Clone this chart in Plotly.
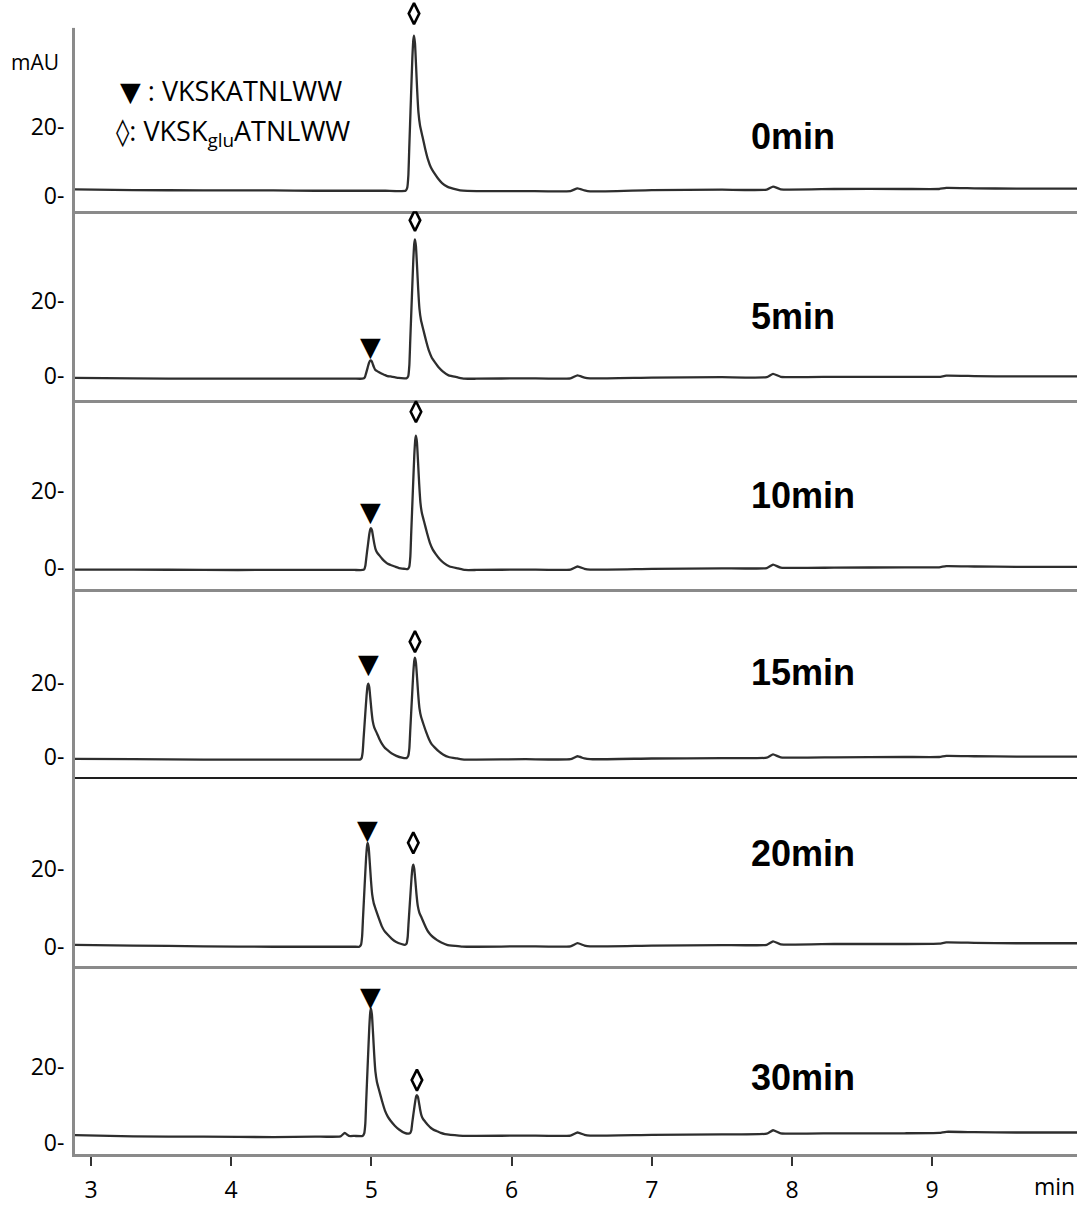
import plotly.graph_objects as go
from plotly.subplots import make_subplots

panel_labels = ["0min", "5min", "10min", "15min", "20min", "30min"]
x_tick_vals = [3, 4, 5, 6, 7, 8, 9]
y_tick_vals = [0, 20]
y_tick_text = ["0-", "20-"]

# Chromatograms: retention time (min) and absorbance (mAU)
time_0min = [2.886, 3.3, 3.8, 4.3, 4.6, 4.78, 4.81, 4.84, 4.88, 5.1,
             5.244, 5.256, 5.264, 5.270, 5.276, 5.282, 5.292, 5.299, 5.304, 5.311, 5.319, 5.327,
             5.336, 5.347, 5.364, 5.384, 5.404, 5.424, 5.444, 5.474, 5.504, 5.544, 5.604, 5.654,
             5.75, 6.1, 6.42, 6.47, 6.52, 6.56, 7.0, 7.5, 7.82, 7.865, 7.92, 8.3, 8.8, 9.05, 9.1, 9.3, 9.6, 10.033]
mau_0min = [2.0, 1.8, 1.7, 1.7, 1.6, 1.6, 1.6, 1.6, 1.6, 1.6,
            1.6, 2.5, 6.1, 13.6, 20.7, 27.9, 39.4, 44.8, 46.1, 43.9, 37.2, 30.1,
            23.9, 20.3, 17.2, 13.6, 10.5, 8.3, 6.9, 5.2, 3.8, 2.7, 2.0, 1.6,
            1.5, 1.5, 1.5, 2.3, 1.7, 1.4, 1.8, 1.9, 1.9, 2.8, 2.0, 2.1, 2.1, 2.1, 2.4, 2.3, 2.2, 2.2]

time_5min = [2.886, 3.3, 3.8, 4.3, 4.6, 4.78, 4.81, 4.84, 4.88,
             4.935, 4.947, 4.955, 4.961, 4.967, 4.973, 4.983, 4.990, 4.995, 5.002, 5.010, 5.018,
             5.027, 5.038, 5.055, 5.075, 5.095, 5.115, 5.135, 5.165, 5.195, 5.235,
             5.251, 5.263, 5.271, 5.277, 5.283, 5.289, 5.299, 5.306, 5.311, 5.318, 5.326, 5.334,
             5.343, 5.354, 5.371, 5.391, 5.411, 5.431, 5.451, 5.481, 5.511, 5.551, 5.611, 5.661,
             5.75, 6.1, 6.42, 6.47, 6.52, 6.56, 7.0, 7.5, 7.82, 7.865, 7.92, 8.3, 8.8, 9.05, 9.1, 9.3, 9.6, 10.033]
mau_5min = [-0.6, -0.7, -0.8, -0.8, -0.8, -0.8, -0.8, -0.8, -0.8,
            -0.8, -0.7, -0.3, 0.5, 1.3, 2.1, 3.4, 4.0, 4.1, 3.9, 3.1, 2.3,
            1.6, 1.3, 0.9, 0.5, 0.2, -0.1, -0.2, -0.4, -0.6, -0.7,
            -0.7, -0.1, 2.9, 9.2, 15.2, 21.1, 30.8, 35.3, 36.4, 34.5, 29.0, 23.0,
            17.8, 14.8, 12.2, 9.2, 6.6, 4.8, 3.7, 2.2, 1.1, 0.1, -0.4, -0.8,
            -0.8, -0.7, -0.7, 0.1, -0.5, -0.7, -0.5, -0.4, -0.4, 0.5, -0.3, -0.3, -0.3, -0.3, 0.0, -0.1, -0.2, -0.2]

time_10min = [2.886, 3.3, 3.8, 4.3, 4.6, 4.78, 4.81, 4.84, 4.88,
              4.937, 4.949, 4.957, 4.963, 4.969, 4.975, 4.985, 4.992, 4.997, 5.004, 5.012, 5.020,
              5.029, 5.040, 5.057, 5.077, 5.097, 5.117, 5.137, 5.167, 5.197, 5.237,
              5.258, 5.270, 5.278, 5.284, 5.290, 5.296, 5.306, 5.313, 5.318, 5.325, 5.333, 5.341,
              5.350, 5.361, 5.378, 5.398, 5.418, 5.438, 5.458, 5.488, 5.518, 5.558, 5.618, 5.668,
              5.75, 6.1, 6.42, 6.47, 6.52, 6.56, 7.0, 7.5, 7.82, 7.865, 7.92, 8.3, 8.8, 9.05, 9.1, 9.3, 9.6, 10.033]
mau_10min = [-0.4, -0.4, -0.5, -0.5, -0.5, -0.5, -0.5, -0.5, -0.5,
             -0.5, -0.3, 0.6, 2.4, 4.2, 5.9, 8.8, 10.1, 10.4, 9.9, 8.2, 6.5,
             5.0, 4.1, 3.3, 2.4, 1.7, 1.1, 0.8, 0.4, 0.0, -0.2,
             -0.3, 0.3, 3.1, 9.0, 14.6, 20.2, 29.3, 33.5, 34.5, 32.8, 27.5, 21.9,
             17.0, 14.2, 11.8, 9.0, 6.5, 4.8, 3.7, 2.3, 1.3, 0.4, -0.1, -0.5,
             -0.5, -0.4, -0.4, 0.4, -0.2, -0.4, -0.2, -0.1, 0.0, 0.9, 0.1, 0.1, 0.2, 0.2, 0.5, 0.4, 0.3, 0.3]

time_15min = [2.886, 3.3, 3.8, 4.3, 4.6, 4.78, 4.81, 4.84, 4.88,
              4.918, 4.930, 4.938, 4.944, 4.950, 4.956, 4.966, 4.973, 4.978, 4.985, 4.993, 5.001,
              5.010, 5.021, 5.038, 5.058, 5.078, 5.098, 5.118, 5.148, 5.178, 5.218,
              5.251, 5.263, 5.271, 5.277, 5.283, 5.289, 5.299, 5.306, 5.311, 5.318, 5.326, 5.334,
              5.343, 5.354, 5.371, 5.391, 5.411, 5.431, 5.451, 5.481, 5.511, 5.551, 5.611, 5.661,
              5.75, 6.1, 6.42, 6.47, 6.52, 6.56, 7.0, 7.5, 7.82, 7.865, 7.92, 8.3, 8.8, 9.05, 9.1, 9.3, 9.6, 10.033]
mau_15min = [-0.4, -0.5, -0.6, -0.6, -0.6, -0.6, -0.6, -0.6, -0.6,
             -0.6, -0.2, 1.5, 4.9, 8.2, 11.5, 16.8, 19.3, 19.9, 18.9, 15.8, 12.5,
             9.7, 8.0, 6.6, 4.9, 3.5, 2.5, 1.9, 1.0, 0.4, -0.1,
             -0.2, 0.4, 2.5, 7.1, 11.5, 15.7, 22.8, 26.1, 26.9, 25.5, 21.4, 17.0,
             13.2, 11.0, 9.0, 6.8, 4.9, 3.5, 2.7, 1.6, 0.8, 0.1, -0.3, -0.6,
             -0.6, -0.5, -0.5, 0.3, -0.3, -0.5, -0.3, -0.2, -0.1, 0.8, 0.0, 0.0, 0.1, 0.1, 0.4, 0.3, 0.2, 0.2]

time_20min = [2.886, 3.3, 3.8, 4.3, 4.6, 4.78, 4.81, 4.84, 4.88,
              4.914, 4.926, 4.934, 4.940, 4.946, 4.952, 4.962, 4.969, 4.974, 4.981, 4.989, 4.997,
              5.006, 5.017, 5.034, 5.054, 5.074, 5.094, 5.114, 5.144, 5.174, 5.214,
              5.239, 5.251, 5.259, 5.265, 5.271, 5.277, 5.287, 5.294, 5.299, 5.306, 5.314, 5.322,
              5.331, 5.342, 5.359, 5.379, 5.399, 5.419, 5.439, 5.469, 5.499, 5.539, 5.599, 5.649,
              5.75, 6.1, 6.42, 6.47, 6.52, 6.56, 7.0, 7.5, 7.82, 7.865, 7.92, 8.3, 8.8, 9.05, 9.1, 9.3, 9.6, 10.033]
mau_20min = [0.5, 0.3, 0.1, 0.0, 0.0, 0.0, 0.0, 0.0, 0.0,
             0.0, 0.5, 2.7, 7.2, 11.5, 15.8, 22.7, 25.9, 26.7, 25.4, 21.4, 17.1,
             13.4, 11.2, 9.3, 7.2, 5.3, 4.0, 3.2, 2.1, 1.3, 0.7,
             0.5, 0.8, 2.5, 6.0, 9.3, 12.6, 18.0, 20.5, 21.1, 20.0, 16.8, 13.4,
             10.5, 8.8, 7.4, 5.7, 4.2, 3.2, 2.5, 1.7, 1.1, 0.5, 0.2, 0.0,
             0.0, 0.1, 0.1, 0.9, 0.3, 0.1, 0.3, 0.4, 0.5, 1.4, 0.6, 0.7, 0.7, 0.8, 1.1, 1.0, 0.9, 0.9]

time_30min = [2.886, 3.3, 3.8, 4.3, 4.6, 4.78, 4.81, 4.84, 4.88,
              4.937, 4.949, 4.957, 4.963, 4.969, 4.975, 4.985, 4.992, 4.997, 5.004, 5.012, 5.020,
              5.029, 5.040, 5.057, 5.077, 5.097, 5.117, 5.137, 5.167, 5.197, 5.237,
              5.265, 5.277, 5.285, 5.291, 5.297, 5.303, 5.313, 5.320, 5.325, 5.332, 5.340, 5.348,
              5.357, 5.368, 5.385, 5.405, 5.425, 5.445, 5.465, 5.495, 5.525, 5.565, 5.625, 5.675,
              5.75, 6.1, 6.42, 6.47, 6.52, 6.56, 7.0, 7.5, 7.82, 7.865, 7.92, 8.3, 8.8, 9.05, 9.1, 9.3, 9.6, 10.033]
mau_30min = [2.0, 1.7, 1.6, 1.5, 1.6, 1.7, 2.6, 1.8, 1.8,
             1.8, 2.5, 5.2, 10.9, 16.3, 21.7, 30.4, 34.5, 35.5, 33.8, 28.8, 23.4,
             18.7, 16.0, 13.6, 10.9, 8.5, 6.9, 5.8, 4.5, 3.5, 2.6,
             2.4, 2.6, 3.3, 5.1, 6.8, 8.4, 11.0, 12.3, 12.6, 12.1, 10.5, 8.7,
             7.2, 6.3, 5.5, 4.6, 3.9, 3.4, 3.1, 2.6, 2.3, 2.1, 1.9, 1.8,
             1.8, 1.9, 1.9, 2.7, 2.1, 1.9, 2.1, 2.2, 2.4, 3.3, 2.5, 2.5, 2.5, 2.6, 2.9, 2.8, 2.7, 2.7]

# Peak apices (min, mAU): VKSKATNLWW (filled triangle) and VKSK(glu)ATNLWW (open lozenge)
tri_time = [None, 4.995, 4.997, 4.978, 4.974, 4.997]
tri_top = [None, 4.1, 10.4, 19.9, 26.7, 35.5]
glu_time = [5.304, 5.311, 5.318, 5.311, 5.299, 5.325]
glu_top = [46.1, 36.4, 34.5, 26.9, 21.1, 12.6]

times = [time_0min, time_5min, time_10min, time_15min, time_20min, time_30min]
maus = [mau_0min, mau_5min, mau_10min, mau_15min, mau_20min, mau_30min]

# ---- layout geometry (pixels of the 1077x1205 page) ----
W, H = 1077, 1205
ML, MR, MT, MB = 75, 0, 0, 47
plot_h = H - MT - MB
AXIS_TOP_PX = 28                       # where the left axis line starts
# panel 1 extends to the page top (room for its lozenge); the others are stacked below
edges_px = [0, 212, 401, 591, 780, 969, 1158]
y_ranges = [[-4.29, 56.29], [-6.38, 43.88], [-5.45, 43.9], [-5.38, 45.43], [-4.87, 43.59], [-2.97, 46.76]]
tri_gap = [0, 0, 3, 7, 0, -2]          # px between peak apex and triangle tip
glu_gap = [10, 7, 12, 4, 10, 3]        # px between peak apex and lozenge bottom
DIAMOND_SIZE = 15                      # plotly diamond-tall: height = 1.4 * size
label_y_px = [137, 318, 497, 675, 856, 1081]
AXIS_GREY = "#8a8a8a"


def py(px):
    return (1158 - px) / plot_h


def pxx(px):
    return (px - ML) / (W - ML - MR)


fig = make_subplots(rows=6, cols=1, shared_xaxes=True, vertical_spacing=0)

for i in range(6):
    fig.add_trace(go.Scatter(x=times[i], y=maus[i], mode="lines",
                             line=dict(color="#2e2e2e", width=2.3, shape="spline", smoothing=0.4),
                             showlegend=False, hoverinfo="skip"), row=i + 1, col=1)
    # open lozenge marker above the VKSK(glu)ATNLWW peak: shift the apex value by a pixel gap
    panel_px = edges_px[i + 1] - edges_px[i]
    units_per_px = (y_ranges[i][1] - y_ranges[i][0]) / panel_px
    lift = (glu_gap[i] + 0.7 * DIAMOND_SIZE + 1.5) * units_per_px
    fig.add_trace(go.Scatter(x=[glu_time[i]], y=[glu_top[i] + lift], mode="markers",
                             marker=dict(symbol="diamond-tall-open", size=DIAMOND_SIZE, color="black",
                                         line=dict(color="black", width=2.6)),
                             showlegend=False, hoverinfo="skip"), row=i + 1, col=1)

axis_font = dict(family="Open Sans, Lato, sans-serif", size=23, color="black")
sep_colors = [AXIS_GREY, AXIS_GREY, AXIS_GREY, "#1e1e1e", AXIS_GREY, AXIS_GREY]
sep_widths = [3, 3, 3, 2, 3, 3]
for i in range(6):
    n = "" if i == 0 else str(i + 1)
    top, bot = edges_px[i], edges_px[i + 1]
    fig.layout["yaxis" + n].update(
        domain=[py(bot), min(1.0, py(top))], range=y_ranges[i], tickvals=y_tick_vals, ticktext=y_tick_text,
        ticks="", showgrid=False, zeroline=False, showline=True, linecolor=AXIS_GREY, linewidth=3,
        tickfont=axis_font, ticklabelstandoff=3, fixedrange=True)
    fig.layout["xaxis" + n].update(
        range=[2.886, 10.033], showgrid=False, zeroline=False, showline=True,
        linecolor=sep_colors[i], linewidth=sep_widths[i], tickvals=x_tick_vals,
        showticklabels=(i == 5), ticks="outside" if i == 5 else "", ticklen=9, tickwidth=2,
        tickcolor="#333333", tickfont=axis_font, ticklabelstandoff=4)

# the left axis line starts a little below the page top: mask its uppermost part
fig.add_shape(type="rect", xref="paper", yref="paper", x0=pxx(70), x1=pxx(79),
              y0=py(AXIS_TOP_PX), y1=1.0, fillcolor="white", line=dict(width=0), layer="above")

ann = []
for i in range(6):
    n = "" if i == 0 else str(i + 1)
    if tri_time[i] is not None:
        ann.append(dict(x=tri_time[i], y=tri_top[i], xref="x" + n, yref="y" + n, text="▼",
                        showarrow=False, yanchor="bottom", yshift=tri_gap[i] - 4,
                        font=dict(family="DejaVu Sans", size=27, color="black")))
    ann.append(dict(x=pxx(749), y=py(label_y_px[i]), xref="paper", yref="paper",
                    text="<b>" + panel_labels[i] + "</b>", showarrow=False, xanchor="left",
                    yanchor="middle", font=dict(family="Liberation Sans, Arial", size=36, color="black")))

ann.append(dict(x=pxx(35), y=py(62), xref="paper", yref="paper", text="mAU", showarrow=False,
                xanchor="center", yanchor="middle", font=dict(family="Open Sans", size=21, color="black")))
ann.append(dict(x=pxx(118), y=py(91), xref="paper", yref="paper",
                text="<span style='font-family:DejaVu Sans;font-size:27px'>▼</span> : VKSKATNLWW",
                showarrow=False, xanchor="left", yanchor="middle",
                font=dict(family="Open Sans", size=27, color="black")))
ann.append(dict(x=pxx(114), y=py(133), xref="paper", yref="paper",
                text="<span style='font-family:DejaVu Sans;font-weight:bold;font-size:27px'>◊</span>: VKSK<sub>glu</sub>ATNLWW",
                showarrow=False, xanchor="left", yanchor="middle",
                font=dict(family="Open Sans", size=27, color="black")))
ann.append(dict(x=1.0, y=py(1190), xref="paper", yref="paper", text="min", showarrow=False,
                xanchor="right", yanchor="middle", font=dict(family="Open Sans", size=23, color="black")))

fig.update_layout(width=W, height=H, margin=dict(l=ML, r=MR, t=MT, b=MB, pad=0),
                  paper_bgcolor="white", plot_bgcolor="white", annotations=ann, showlegend=False)

fig.write_html("out.html", include_plotlyjs=True, config={"displayModeBar": False})
